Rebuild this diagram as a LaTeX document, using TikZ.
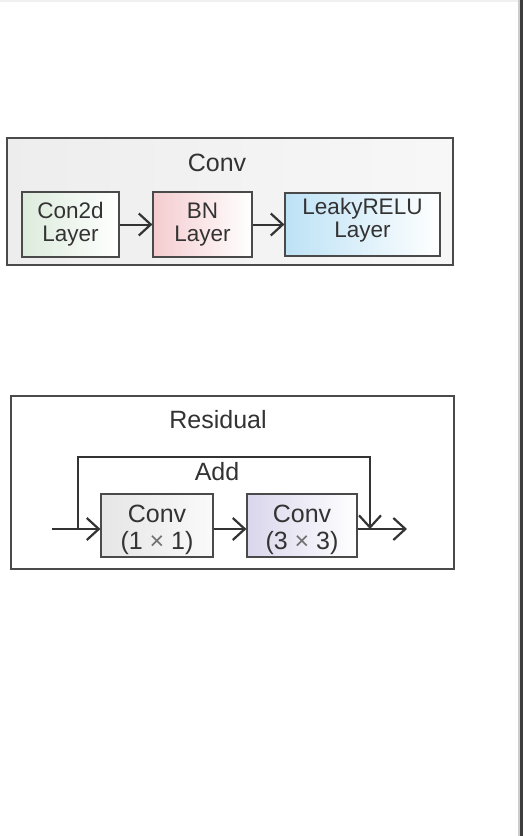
\documentclass[tikz,border=0pt]{standalone}
\usepackage{fontspec}
\setmainfont{Liberation Sans}
\usepackage{xcolor}
\usetikzlibrary{arrows.meta}
\definecolor{ink}{HTML}{333333}
\definecolor{edge}{HTML}{4A4A4A}
\definecolor{mint}{HTML}{DCEBDC}
\definecolor{rose}{HTML}{F4CCD0}
\definecolor{sky}{HTML}{BDE2F5}
\definecolor{lilac}{HTML}{DAD6EC}
\tikzset{
  layer/.style={draw=edge,line width=1.2pt,align=center,text=ink,inner sep=0pt},
  frame/.style={draw=edge,line width=1.2pt},
  flow/.style={-{Straight Barb[length=12pt,width=22pt,line width=2.2pt]},line width=2pt,draw=ink},
  caption/.style={text=ink,font=\fontsize{25}{27}\selectfont},
  small/.style={font=\fontsize{22.5}{23}\selectfont}
}
\begin{document}
\begin{tikzpicture}[x=1pt,y=-1pt]
\useasboundingbox[fill=white](0,0) rectangle (523,836);
\fill[black!6](0,0) rectangle (523,1.5);
\fill[black!20](518,0) rectangle (520,836);
\fill[ink!95](520,0) rectangle (523,836);
\draw[frame,left color=black!7,right color=black!3](7,138) rectangle (453,265);
\node[caption](convtitle) at (217,163) {Conv};
\node[layer,small,minimum width=97pt,minimum height=65pt,left color=mint,right color=white](con2d) at (70.5,224.5) {Con2d\\Layer};
\node[layer,small,minimum width=99pt,minimum height=65pt,left color=rose,right color=white](bn) at (202.5,224.5) {BN\\Layer};
\node[layer,minimum width=155pt,minimum height=63pt,left color=sky,right color=white](leaky) at (362.5,224.5) {};
\node[small,text=ink,align=center](leakytext) at (362.5,220) {LeakyRELU\\Layer};
\draw[flow](con2d)--(bn);
\draw[flow](bn)--(leaky);
\draw[frame,fill=white](11,396) rectangle (454,569);
\node[caption](restitle) at (218,420) {Residual};
\node[caption](add) at (217,472) {Add};
\node[layer,minimum width=112pt,minimum height=63pt,left color=black!10,right color=black!2](conva) at (157,525.5) {};
\node[caption,align=center](convatext) at (157,530) {Conv\\(1 {\color{ink!70}×} 1)};
\node[layer,minimum width=110pt,minimum height=63pt,left color=lilac,right color=white](convb) at (302,525.5) {};
\node[caption,align=center](convbtext) at (302,530) {Conv\\(3 {\color{ink!70}×} 3)};
\coordinate(in) at (52,529);
\coordinate(split) at (78,529);
\coordinate(merge) at (370,529);
\coordinate(out) at (407,529);
\draw[flow](in)--(in-|conva.west);
\draw[flow](conva.east|-in)--(convb.west|-in);
\draw[flow](convb.east|-in)--(out);
\draw[flow](split)--++(0,-72)-|(merge);
\end{tikzpicture}
\end{document}
